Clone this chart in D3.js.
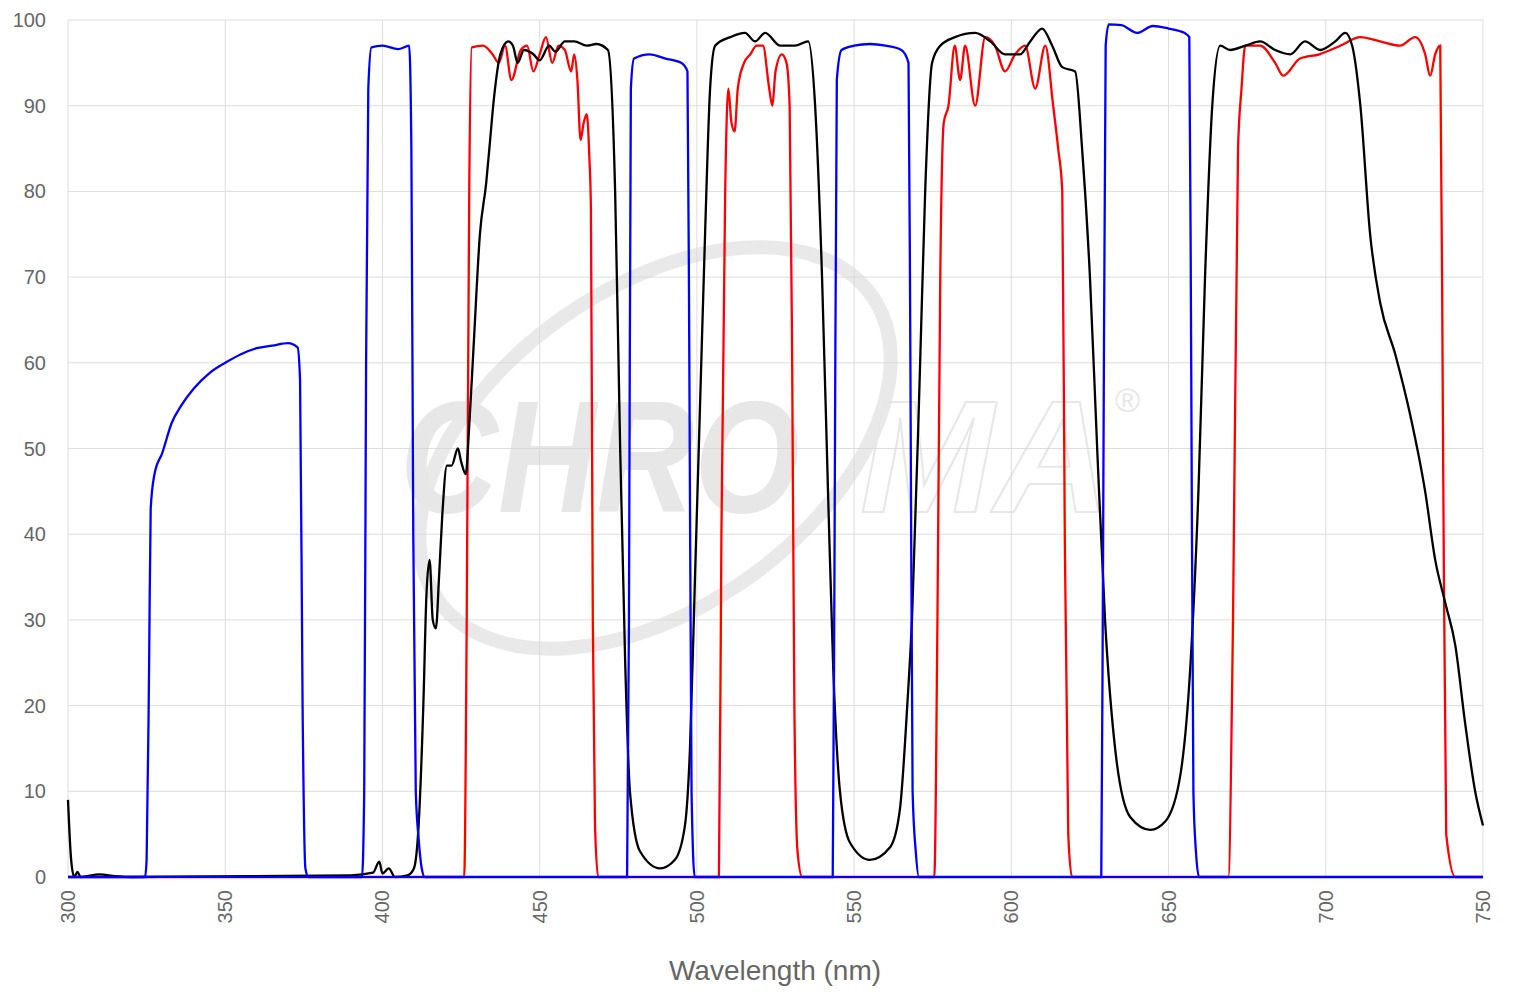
<!DOCTYPE html>
<html><head><meta charset="utf-8">
<script src="https://cdn.jsdelivr.net/npm/d3@7"></script>
<style>body{margin:0;background:#fff;font-family:"Liberation Sans",Arial,sans-serif}</style>
</head><body><svg id="chart" width="1520" height="1000"></svg>
<script>
// [wavelength nm, transmission %]
const blue = [[300,0],[324.5,0],[325,2],[325.8,25],[326.3,43],[327.5,47],[330,49.5],[333,53],[336,55],[340,57],[345,58.8],[350,60],[355,61],[360,61.7],[365,62],[370,62.3],[373,61.8],[373.8,58],[374.6,20],[375.5,1],[376.5,0],
  [393.5,0],[394.2,10],[394.8,60],[395.5,92],[396.5,96.8],[400,97],[405,96.6],[408.5,97],[409.2,85],[409.8,40],[410.6,10],[411.5,4.5],[412.5,1],[413.5,0],
  [477.8,0],[478.4,30],[479,92],[480,95.5],[485,96],[490,95.5],[495,95],[497,94],[497.6,60],[498.3,10],[499.3,0],
  [543.2,0],[543.8,40],[544.5,93],[546,96.5],[550,97],[555,97.2],[560,97],[565,96.5],[567.3,95],[567.9,60],[568.6,10],[569.6,3],[570.6,0],
  [628.6,0],[629.2,40],[630,97],[631,99.5],[635,99.4],[640,98.5],[645,99.3],[650,99],[655,98.5],[656.6,98],[657.2,60],[657.9,10],[658.7,3],[659.7,0],[750,0]];
const red = [[300,0],[426,0],[426.8,30],[427.6,80],[428.4,96.8],[432,97],[435,96],[437,95],[439,97],[441,93],[444,96.5],[446,97],[448,94],[450,96],[452,98],[454,95],[456,97],[458,96.5],[460,94],[461,96],[462,93],[463,86],[464,88],[465,89],[465.8,84],[466.3,78],[466.9,30],[467.6,6],[468.6,0],
  [507,0],[507.8,40],[509,80],[510,92],[511,88],[512,87],[513,92],[515,95],[517,96],[519,97],[521,97],[523,92],[524,90],[525,94],[527,96],[528.5,95],[529.5,90],[530.3,60],[531,20],[532,3],[533.5,0],
  [575.5,0],[576.5,30],[577.4,70],[578.5,88],[580,90],[582,97],[583.7,93],[585.3,97],[588.5,90],[591.7,98],[594.8,97],[598,94],[601.2,96],[604.4,97],[607.6,92],[610.8,97],[613.3,90],[614.9,85],[616.2,80],[617,40],[618.1,5],[619.3,0],
  [669,0],[670.5,30],[672.1,85],[673.2,92],[674.4,97],[679.1,97],[683.9,95],[686.5,93.5],[691.8,95.5],[698,96],[704.6,97],[711,98],[717.3,97.5],[723.6,97],[728.4,98],[731.6,96],[733.2,93.5],[734.8,96],[736.4,97],[737.3,50],[738.3,5],[741.2,0],[750,0]];
const black = [[300,9],[301,2],[302,0],[303,0.6],[304,0],[310,0.3],[315,0.1],[320,0],[390,0.2],[397,0.5],[399,1.8],[400,0.4],[402,1],[404,0],[408,0.2],[410,1],[411.5,6],[413,20],[414,33],[415,37],[416,30],[417,29],[418,35],[419,42],[420.5,48],[422,48],[424,50],[425,48.5],[426.5,47],[427.5,52],[429,62],[431,75],[433,81],[434,85],[435.5,91],[437.5,96],[440,97.5],[441.5,97],[443,95],[445,96.5],[448,96],[450,95.3],[453,97],[455,96.3],[458,97.5],[461,97.5],[465,97],[468,97.2],[471.7,96.5],[474,80],[475.6,50],[477.2,25],[478.7,10],[481.9,3],[488.3,1],[493,2],[496.2,6],[497.8,15],[499.4,35],[501,55],[502.6,75],[504.2,92],[505.8,97],[510.6,98],[515.3,98.5],[518.5,97.5],[521.7,98.5],[526.5,97],[531.2,97],[535.4,97.5],[537.6,90],[539.8,70],[541.7,45],[543.3,25],[545.5,10],[548.7,4],[555,2],[561.5,3.5],[564.6,8],[566.9,20],[568.4,30],[571,60],[572.6,80],[574.8,95],[577.4,97],[582.1,98],[588.5,98.5],[593.3,97.5],[598,96],[602.8,96],[606,97.5],[609.8,99],[613,97],[616.2,94.5],[620.3,94],[622.5,85],[625,70],[627.3,50],[629.8,30],[633,15],[637.8,7],[644.2,5.5],[649,6.5],[653.8,12],[657,25],[659.5,45],[661.6,70],[663.9,90],[666.4,97],[669.6,96.5],[674.4,97],[679.1,97.5],[683.9,96.5],[688.7,96],[693.4,97.5],[698.2,96.5],[703,97.5],[706.2,98.5],[708.4,97],[711,90],[714.1,75],[717.3,67],[722.1,61],[726.8,54],[731.6,45],[734.8,37],[738,32],[741.2,27],[744.3,18],[747.5,10],[750,6]];
const xTicks = [300,350,400,450,500,550,600,650,700,750];
const yTicks = [0,10,20,30,40,50,60,70,80,90,100];

const svg = d3.select("#chart");
const x = d3.scaleLinear().domain([300,750]).range([68,1483]);
const y = d3.scaleLinear().domain([0,100]).range([877,20]);

// grid
svg.append("g").selectAll("line").data(yTicks).join("line")
  .attr("x1",68).attr("x2",1483).attr("y1",d=>y(d)).attr("y2",d=>y(d))
  .attr("stroke","#dddddd");
svg.append("g").selectAll("line").data(xTicks).join("line")
  .attr("y1",20).attr("y2",877).attr("x1",d=>x(d)).attr("x2",d=>x(d))
  .attr("stroke","#dddddd");

// watermark
const wm = svg.append("g").attr("opacity",0.55);
wm.append("ellipse").attr("cx",655).attr("cy",448).attr("rx",265).attr("ry",160)
  .attr("transform","rotate(-35,655,448)").attr("fill","none").attr("stroke","#d8d8d8").attr("stroke-width",14);
wm.append("text").attr("x",400).attr("y",512).attr("font-size",160).attr("font-weight","bold")
  .attr("font-style","italic").attr("fill","#d4d4d4")
  .attr("textLength",400).attr("lengthAdjust","spacingAndGlyphs").text("CHRO");
wm.append("text").attr("x",860).attr("y",512).attr("font-size",160).attr("font-weight","bold")
  .attr("font-style","italic").attr("fill","none").attr("stroke","#d4d4d4").attr("stroke-width",2)
  .attr("textLength",250).attr("lengthAdjust","spacingAndGlyphs").text("MA");
wm.append("text").attr("x",1115).attr("y",412).attr("font-size",34).attr("fill","#d4d4d4").text("®");

// axes labels
svg.append("g").selectAll("text").data(yTicks).join("text")
  .attr("x",46).attr("y",d=>y(d)+7).attr("text-anchor","end")
  .attr("font-size",20).attr("fill","#666").text(d=>d);
svg.append("g").selectAll("text").data(xTicks).join("text")
  .attr("transform",d=>`translate(${x(d)+7},890) rotate(-90)`).attr("text-anchor","end")
  .attr("font-size",20).attr("fill","#666").text(d=>d);
svg.append("text").attr("x",775).attr("y",980).attr("text-anchor","middle")
  .attr("font-size",28).attr("fill","#666").text("Wavelength (nm)");

const line = d3.line().x(d=>x(d[0])).y(d=>y(d[1])).curve(d3.curveMonotoneX);
[[red,"#ff0000"],[black,"#000000"],[blue,"#0000ff"]].forEach(([s,c])=>{
  svg.append("path").datum(s).attr("d",line).attr("fill","none").attr("stroke",c).attr("stroke-width",2.3);
});
svg.append("line").attr("x1",68).attr("x2",1483).attr("y1",877).attr("y2",877).attr("stroke","#0000ff").attr("stroke-width",2);
</script></body></html>
